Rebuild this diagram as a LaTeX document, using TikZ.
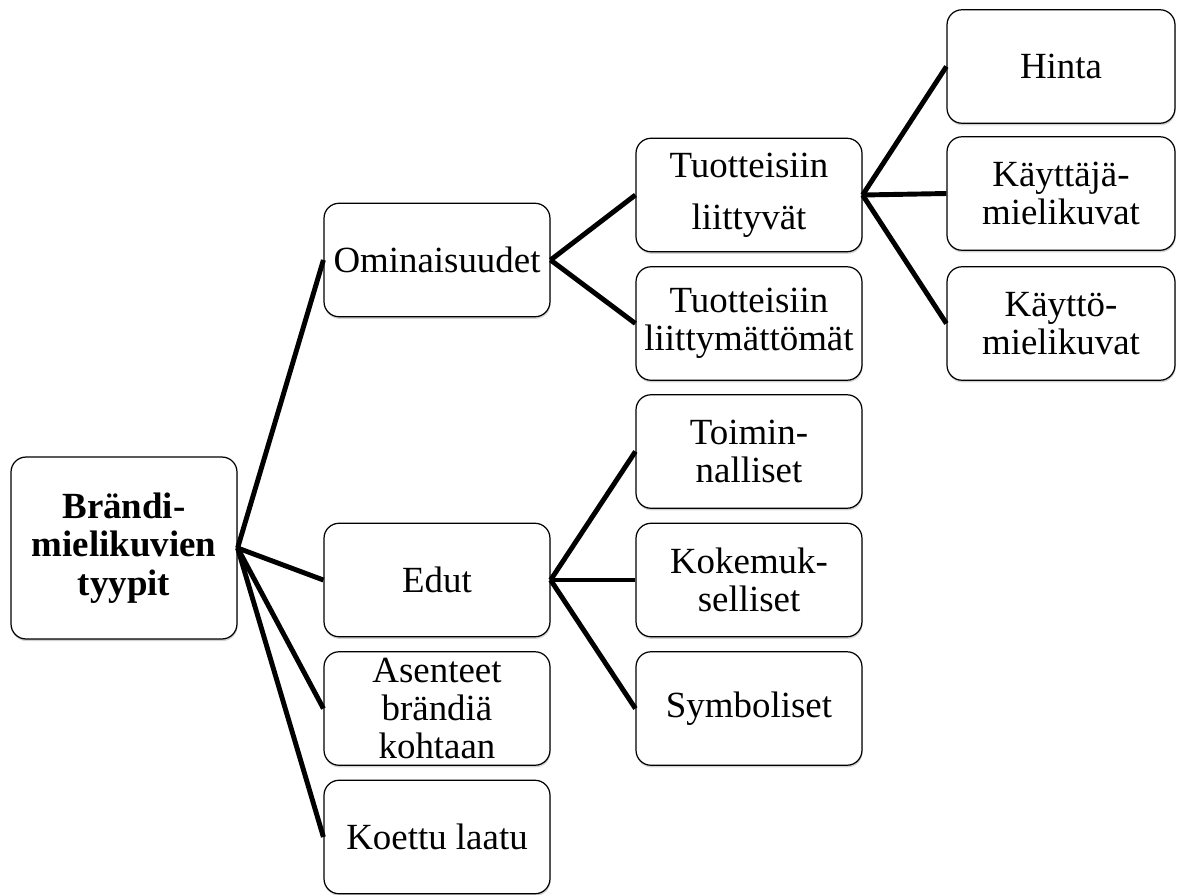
\documentclass[tikz,border=0pt]{standalone}
\usepackage{fontspec}
\setmainfont{LiberationSerif}[Extension=.ttf, UprightFont=*-Regular, BoldFont=*-Bold]
\usetikzlibrary{shadows}

\begin{document}
\begin{tikzpicture}[x=0.02cm, y=-0.02cm,
    box/.style={draw, rounded corners=0.3cm, fill=white, line width=0.7pt,
        minimum width=4.52cm, minimum height=2.27cm, inner sep=0pt, align=center,
        font=\fontsize{21}{21.8}\selectfont,
        drop shadow={shadow xshift=0.3pt, shadow yshift=-1.2pt, opacity=0.35}},
    link/.style={line width=2.8pt}]
    \useasboundingbox (0,0) rectangle (1181,894);

    % Main categories
    \node[box, minimum height=3.64cm, font=\bfseries\fontsize{21}{21.8}\selectfont] (root) at (124,548) {Brändi-\\mielikuvien\\tyypit};
    \node[box] (omin) at (437,260) {Ominaisuudet};
    \node[box] (edut) at (437,580) {Edut};
    \node[box] (asen) at (437,708.5) {Asenteet\\brändiä\\kohtaan};
    \node[box] (laatu) at (437,837) {Koettu laatu};

    % Second level
    \node[box] (tuot) at (749,195) {Tuotteisiin\\[8pt]liittyvät};
    \node[box] (eituot) at (749,323.5) {Tuotteisiin\\liittymättömät};
    \node[box] (toim) at (749,451.5) {Toimin-\\nalliset};
    \node[box] (koke) at (749,580) {Kokemuk-\\selliset};
    \node[box] (symb) at (749,708.5) {Symboliset};

    % Third level
    \node[box, minimum width=4.56cm] (hinta) at (1061,66.5) {Hinta};
    \node[box, minimum width=4.56cm] (kayttaja) at (1061,193.5) {Käyttäjä-\\mielikuvat};
    \node[box, minimum width=4.56cm] (kaytto) at (1061,323.5) {Käyttö-\\mielikuvat};

    \draw[link] (root.east) -- (omin.west);
    \draw[link] (root.east) -- (edut.west);
    \draw[link] (root.east) -- (asen.west);
    \draw[link] (root.east) -- (laatu.west);

    \draw[link] (omin.east) -- (tuot.west);
    \draw[link] (omin.east) -- (eituot.west);
    \draw[link] (edut.east) -- (toim.west);
    \draw[link] (edut.east) -- (koke.west);
    \draw[link] (edut.east) -- (symb.west);

    \draw[link] (tuot.east) -- (hinta.west);
    \draw[link] (tuot.east) -- (kayttaja.west);
    \draw[link] (tuot.east) -- (kaytto.west);
\end{tikzpicture}
\end{document}
